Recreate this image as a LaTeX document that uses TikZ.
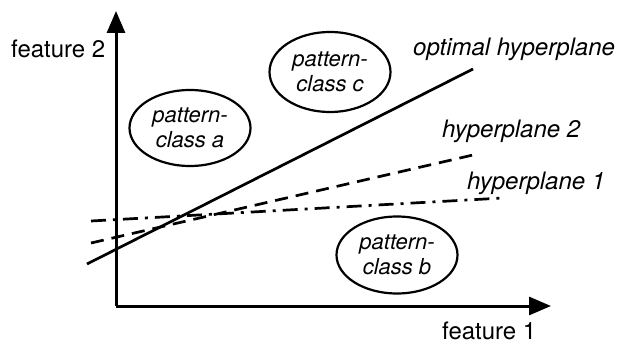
\documentclass[tikz,border=0pt]{standalone}
\usepackage{fontspec}
\setmainfont{TeX Gyre Heros}
\usetikzlibrary{arrows.meta,shapes.geometric}
\begin{document}
\begin{tikzpicture}[x=1pt,y=-1pt,
  axis/.style={line width=3pt,-{Triangle[length=22pt,width=18pt]}},
  plane/.style={line width=2.7pt},
  classblob/.style={draw,line width=2.2pt,ellipse,minimum width=#1,minimum height=76pt,inner sep=0pt,
    font=\fontsize{22}{25}\selectfont\itshape,align=center},
  lbl/.style={font=\fontsize{24}{27}\selectfont,inner sep=0pt,anchor=base west},
  ilbl/.style={lbl,font=\fontsize{24}{27}\selectfont\itshape}]
\useasboundingbox (0,0) rectangle (623,344);
% axes
\coordinate (origin) at (116,306);
\coordinate (ytip) at (116,11);
\coordinate (xtip) at (551,306);
\draw[axis] (origin) -- (ytip);
\draw[axis] (origin) -- (xtip);
% separating lines
\coordinate (o1) at (87,264);  \coordinate (o2) at (473,69);
\coordinate (h2a) at (91,243); \coordinate (h2b) at (473,155);
\coordinate (h1a) at (91,221); \coordinate (h1b) at (503,198);
\draw[plane] (o1) -- (o2);
\draw[plane,dash pattern=on 13pt off 8pt] (h2a) -- (h2b);
\draw[plane,dash pattern=on 15pt off 7pt on 3pt off 7pt] (h1a) -- (h1b);
% class regions
\node[classblob=121pt] (ca) at (190,128) {pattern-\\class a};
\node[classblob=121pt,minimum height=80pt] (cc) at (330,72) {pattern-\\class c};
\node[classblob=121pt,minimum height=77pt] (cb) at (397,255) {pattern-\\class b};
% labels
\node[lbl] (f2) at (11,58) {feature 2};
\node[lbl] (f1) at (442,339) {feature 1};
\node[ilbl] (lo) at (413,56) {optimal hyperplane};
\node[ilbl] (l2) at (442,138) {hyperplane 2};
\node[ilbl] (l1) at (467,190) {hyperplane 1};
\end{tikzpicture}
\end{document}
